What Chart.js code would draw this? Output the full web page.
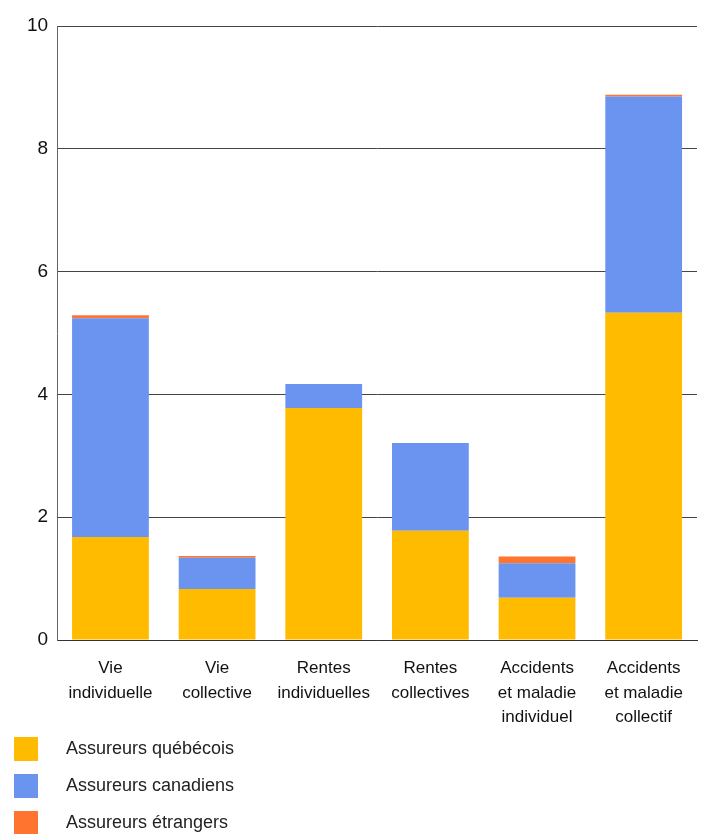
<!DOCTYPE html>
<html>
<head>
<meta charset="utf-8">
<script src="https://cdn.jsdelivr.net/npm/chart.js@4/dist/chart.umd.min.js"></script>
<style>
    body { margin: 0; background: #fff; font-family: 'Liberation Sans', Arial, sans-serif; }
    #wrap { position: relative; width: 704px; height: 738px; }
    #legend { position: absolute; top: 730px; left: 14px; }
    .legend-item { display: flex; align-items: center; height: 37px; font-size: 18px; color: #222; }
    .legend-box { width: 24px; height: 24px; margin-right: 28px; }
</style>
</head>
<body>
<div id="wrap"><canvas id="chart"></canvas></div>
<div id="legend"></div>
<script>
// Data
const categories = [
    ['Vie', 'individuelle'],
    ['Vie', 'collective'],
    ['Rentes', 'individuelles'],
    ['Rentes', 'collectives'],
    ['Accidents', 'et maladie', 'individuel'],
    ['Accidents', 'et maladie', 'collectif']
];
const quebecois = [1.68, 0.83, 3.78, 1.78, 0.69, 5.33];
const canadiens = [3.56, 0.51, 0.39, 1.43, 0.56, 3.52];
const etrangers = [0.05, 0.03, 0.00, 0.00, 0.11, 0.03];
const yTicks = [0, 2, 4, 6, 8, 10];

const seriesLabels = ['Assureurs québécois', 'Assureurs canadiens', 'Assureurs étrangers'];
const seriesColors = ['#FFBB00', '#6B93F0', '#FF7530'];

const ctx = document.getElementById('chart').getContext('2d');
const chart = new Chart(ctx, {
    type: 'bar',
    data: {
        labels: categories,
        datasets: [quebecois, canadiens, etrangers].map((d, i) => ({
            label: seriesLabels[i],
            data: d,
            backgroundColor: seriesColors[i],
            borderWidth: 0,
            barPercentage: 0.72,
            categoryPercentage: 1
        }))
    },
    options: {
        responsive: true,
        maintainAspectRatio: false,
        animation: false,
        layout: { padding: { top: 26, right: 7, left: 18 } },
        plugins: { legend: { display: false }, tooltip: { enabled: false } },
        scales: {
            x: {
                stacked: true,
                grid: { display: false },
                border: { color: '#333' },
                ticks: {
                    color: '#111',
                    padding: 8,
                    font: { family: "'Liberation Sans', Arial, sans-serif", size: 17, lineHeight: 1.45 },
                    maxRotation: 0
                }
            },
            y: {
                stacked: true,
                min: yTicks[0],
                max: yTicks[yTicks.length - 1],
                afterBuildTicks: (axis) => { axis.ticks = yTicks.map(v => ({ value: v })); },
                grid: { color: '#444', drawTicks: false },
                border: { color: '#666' },
                ticks: {
                    color: '#111',
                    padding: 9,
                    font: { family: "'Liberation Sans', Arial, sans-serif", size: 19 }
                }
            }
        }
    }
});

// HTML legend, one row per series
const legend = document.getElementById('legend');
chart.data.datasets.forEach(ds => {
    const row = document.createElement('div');
    row.className = 'legend-item';
    row.innerHTML = `<span class="legend-box" style="background:${ds.backgroundColor}"></span><span>${ds.label}</span>`;
    legend.appendChild(row);
});
</script>
</body>
</html>
